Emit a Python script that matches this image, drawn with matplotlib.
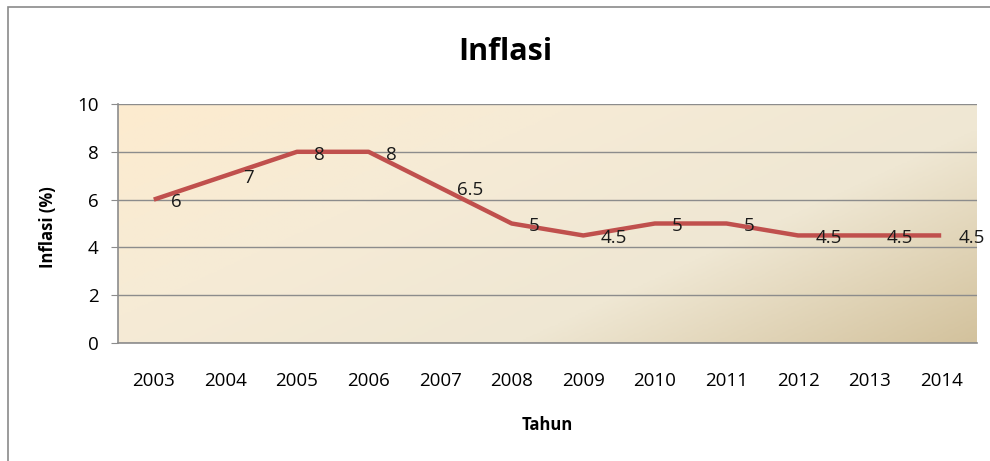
import matplotlib.pyplot as plt
import numpy as np
from matplotlib.patches import Rectangle
from matplotlib.colors import LinearSegmentedColormap

tahun = ['2003', '2004', '2005', '2006', '2007', '2008',
         '2009', '2010', '2011', '2012', '2013', '2014']
inflasi = [6, 7, 8, 8, 6.5, 5, 4.5, 5, 5, 4.5, 4.5, 4.5]
label_txt = ['6', '7', '8', '8', '6.5', '5', '4.5', '5', '5', '4.5', '4.5', '4.5']

plt.rcParams['font.family'] = ['Open Sans', 'DejaVu Sans']

fig = plt.figure(figsize=(9.9, 4.61), dpi=100)
fig.patch.set_facecolor('white')
W, H = 990, 461

# outer chart frame
fig.patches.append(Rectangle((8 / W, -0.02), 1.2, 1 - 7 / H + 0.02,
                             transform=fig.transFigure, fill=False,
                             edgecolor='#8a8a8a', linewidth=1.2))

ax = fig.add_axes([118 / W, 1 - 343 / H, (977 - 118) / W, (343 - 104) / H])

# diagonal gradient background (peach top-left -> tan bottom-right)
cmap = LinearSegmentedColormap.from_list(
    'bg', ['#fdebcf', '#f6ebd6', '#efe7d3', '#d3c29d'])
gx, gy = np.meshgrid(np.linspace(0, 1, 300), np.linspace(0, 1, 150))
grad = (gx * 0.75 + gy * 0.45) / 1.2
ax.imshow(grad, cmap=cmap, extent=[-0.5, 11.5, 0, 10], origin='upper',
          aspect='auto', zorder=0)

x = np.arange(len(tahun))
ax.plot(x, inflasi, color='#c0504d', linewidth=3.2, solid_capstyle='butt', zorder=3)
for xi, yi, t in zip(x, inflasi, label_txt):
    ax.annotate(t, (xi, yi), xytext=(12.5, -2), textcoords='offset points',
                ha='left', va='center', fontsize=13.5, color='#1a1a1a', zorder=4)

ax.set_xlim(-0.5, 11.5)
ax.set_ylim(0, 10)
ax.set_yticks([0, 2, 4, 6, 8, 10])
ax.set_xticks(x)
ax.set_xticklabels(tahun)
ax.yaxis.grid(True, color='#8c8c8c', linewidth=1)
for ln in ax.get_ygridlines():
    ln.set_zorder(1)
ax.tick_params(axis='y', length=5, color='#8c8c8c', labelsize=13.5, pad=9)
ax.tick_params(axis='x', length=0, labelsize=13.5, pad=21)
for s in ['top', 'right']:
    ax.spines[s].set_visible(False)
for s in ['left', 'bottom']:
    ax.spines[s].set_color('#8c8c8c')
    ax.spines[s].set_linewidth(1.2)

fig.text(505 / W, 1 - 52 / H, 'Inflasi', ha='center', va='center',
         fontsize=22, fontweight='bold')
fig.text(48 / W, 1 - 227 / H, 'Inflasi (%)', ha='center', va='center',
         rotation=90, fontsize=12, fontweight='bold')
fig.text(547 / W, 1 - 425 / H, 'Tahun', ha='center', va='center',
         fontsize=12, fontweight='bold')

fig.savefig('out.png', dpi=100)
